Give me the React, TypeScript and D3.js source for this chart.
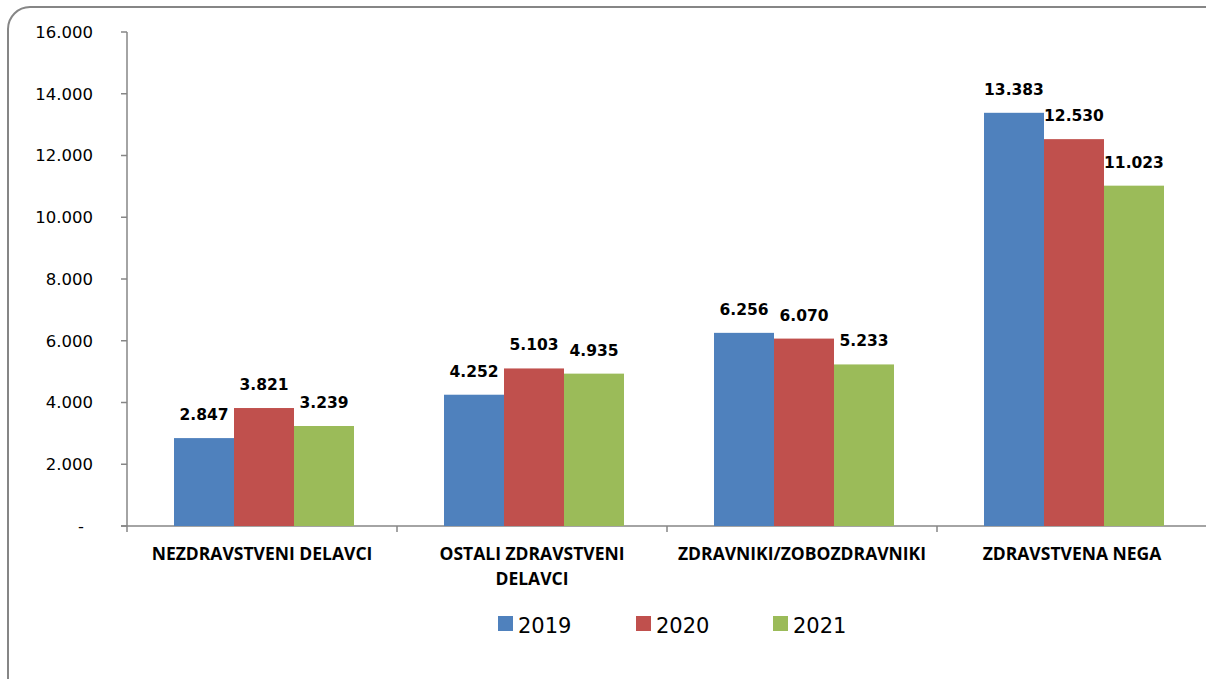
import React from 'react';
import { scaleBand, scaleLinear } from 'd3';

const width = 1206;
const height = 679;

const categories = [
  'NEZDRAVSTVENI DELAVCI',
  'OSTALI ZDRAVSTVENI DELAVCI',
  'ZDRAVNIKI/ZOBOZDRAVNIKI',
  'ZDRAVSTVENA NEGA',
];
const categoryLines = [
  ['NEZDRAVSTVENI DELAVCI'],
  ['OSTALI ZDRAVSTVENI', 'DELAVCI'],
  ['ZDRAVNIKI/ZOBOZDRAVNIKI'],
  ['ZDRAVSTVENA NEGA'],
];
const years = ['2019', '2020', '2021'];
const values2019 = [2847, 4252, 6256, 13383];
const values2020 = [3821, 5103, 6070, 12530];
const values2021 = [3239, 4935, 5233, 11023];
const colors = ['#4F81BD', '#C0504D', '#9BBB59'];
const yTicks = [0, 2000, 4000, 6000, 8000, 10000, 12000, 14000, 16000];

const series = [values2019, values2020, values2021];
const font = '"DejaVu Sans", sans-serif';
const labelFont = '"Open Sans", sans-serif';

const fmt = (v: number) =>
  v === 0 ? '-' : Math.floor(v / 1000) + '.' + String(v % 1000).padStart(3, '0');

const left = 127;
const right = 1207;
const top = 32;
const bottom = 526;

const x = scaleBand<string>().domain(categories).range([left, right]);
const y = scaleLinear().domain([0, 16000]).range([bottom, top]);
const xi = scaleBand<string>()
  .domain(years)
  .range([47, x.bandwidth() - 43]);

const App = () => (
  <svg
    width={width}
    height={height}
    style={{ position: 'absolute', left: 0, top: 0, background: '#fff' }}
    fontFamily={font}
  >
    <rect x={8} y={7} width={1230} height={700} rx={22} fill="#fff" stroke="#868686" strokeWidth={2} />
    {/* y axis */}
    <line x1={left} x2={left} y1={top} y2={bottom} stroke="#868686" strokeWidth={1.5} />
    {yTicks.map((t) => (
      <g key={t}>
        <line x1={left - 6} x2={left} y1={y(t)} y2={y(t)} stroke="#868686" strokeWidth={1.5} />
        <text x={t === 0 ? 84 : 93} y={y(t)} dy="0.36em" textAnchor="end" fontSize={16.5} fill="#000">
          {fmt(t)}
        </text>
      </g>
    ))}
    {/* x axis */}
    <line x1={left - 6} x2={right} y1={bottom} y2={bottom} stroke="#868686" strokeWidth={1.5} />
    {categories.map((c) => (
      <line key={c} x1={x(c)!} x2={x(c)!} y1={bottom} y2={bottom + 6} stroke="#868686" strokeWidth={1.5} />
    ))}
    {/* bars */}
    {categories.map((c, ci) =>
      series.map((s, si) => {
        const bx = x(c)! + xi(years[si])!;
        const by = y(s[ci]);
        return (
          <g key={c + si}>
            <rect x={bx} y={by} width={xi.bandwidth()} height={bottom - by} fill={colors[si]} />
            <text
              x={bx + xi.bandwidth() / 2}
              y={by - 18}
              textAnchor="middle"
              fontSize={15.5}
              fontWeight="bold"
              fill="#000"
            >
              {fmt(s[ci])}
            </text>
          </g>
        );
      })
    )}
    {/* category labels */}
    {categories.map((c, ci) => (
      <text key={c} textAnchor="middle" fontSize={17.5} fontWeight="bold" fontFamily={labelFont} fill="#000">
        {categoryLines[ci].map((l, li) => (
          <tspan key={li} x={x(c)! + x.bandwidth() / 2} y={560 + li * 25}>
            {l}
          </tspan>
        ))}
      </text>
    ))}
    {/* legend */}
    {years.map((yr, i) => {
      const lx = [498, 636, 773][i];
      return (
        <g key={yr}>
          <rect x={lx} y={616} width={15} height={15} fill={colors[i]} />
          <text x={lx + 20} y={633} fontSize={21} fill="#000">
            {yr}
          </text>
        </g>
      );
    })}
  </svg>
);

export default App;
